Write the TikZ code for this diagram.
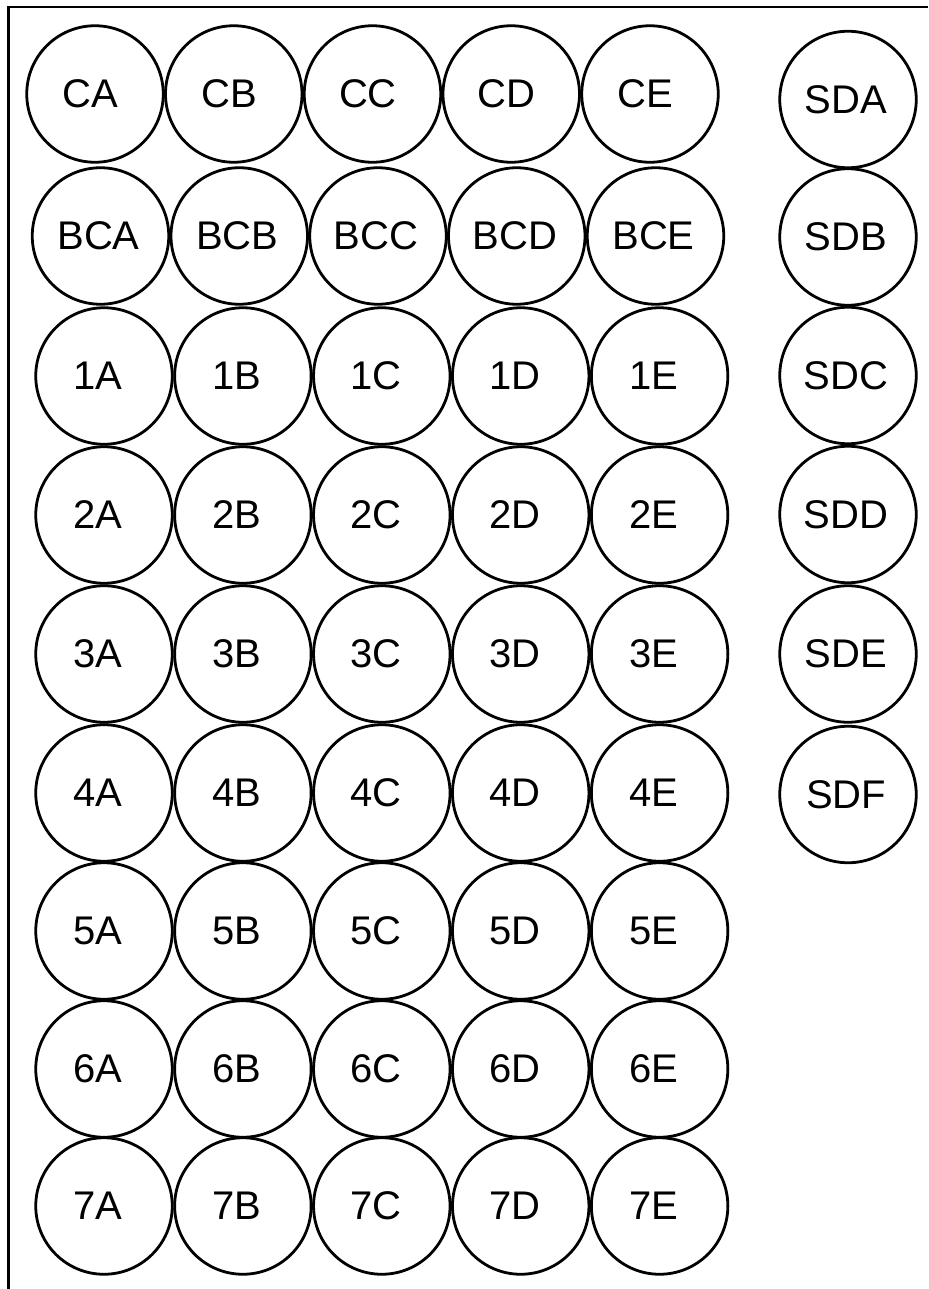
\documentclass[tikz,border=0pt]{standalone}
\usepackage{fontspec}
\setmainfont{Liberation Sans}
\newcommand\welltext[2]{\hspace*{-#1pt}#2}
\begin{document}
\begin{tikzpicture}[x=1pt,y=-1pt,
  well/.style={circle,draw,line width=2.8pt,minimum size=136.5pt,inner sep=0pt,
    font=\fontsize{40}{48}\selectfont},
  frame/.style={line width=2.8pt}]
\useasboundingbox (0,0) rectangle (928,1289);
\draw[frame] (928,7) -- (8.5,7) -- (8.5,1289);
\foreach \l [count=\i from 0] in {A,B,C,D,E} {
  \node[well] (wC\l) at ({95+138.75*\i},94) {\welltext{9}{C\l}};
  \node[well] (wBC\l) at ({100.5+138.75*\i},236) {\welltext{4}{BC\l}};
  \foreach \r/\yy in {1/376,2/515,3/654,4/793,5/931,6/1069,7/1206}
    \node[well] (w\r\l) at ({104+138.9*\i},\yy) {\welltext{12}{\r\l}};
}
\foreach \l/\yy in {A/99.5,B/237,C/375.5,D/514.5,E/654,F/794.5}
  \node[well] (wSD\l) at (848,\yy) {\welltext{4}{SD\l}};
\end{tikzpicture}
\end{document}
